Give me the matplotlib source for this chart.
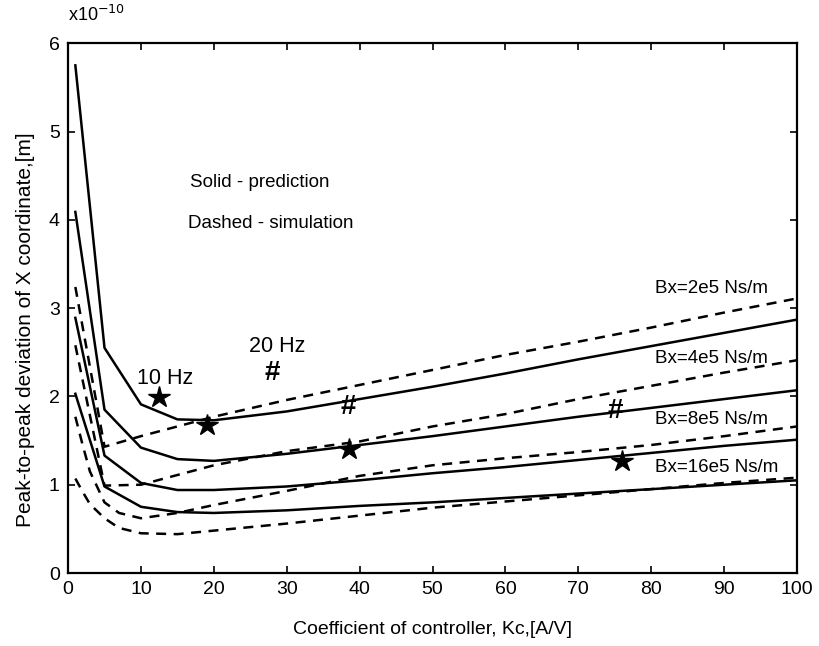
import numpy as np
import matplotlib
matplotlib.use("Agg")
import matplotlib.pyplot as plt

plt.rcParams['font.family'] = ['Liberation Sans', 'DejaVu Sans']

# --- data (units of 1e-10 m) ---
kc_pred = [1, 5, 10, 15, 20, 30, 40, 50, 60, 70, 80, 90, 100]
pred_2e5 = [5.75, 2.55, 1.91, 1.74, 1.73, 1.83, 1.97, 2.11, 2.26, 2.42, 2.57, 2.72, 2.87]
pred_4e5 = [4.09, 1.85, 1.42, 1.29, 1.27, 1.35, 1.45, 1.55, 1.66, 1.77, 1.87, 1.97, 2.07]
pred_8e5 = [2.89, 1.33, 1.02, 0.94, 0.94, 0.98, 1.05, 1.13, 1.20, 1.28, 1.36, 1.44, 1.51]
pred_16e5 = [2.03, 0.98, 0.75, 0.69, 0.68, 0.71, 0.76, 0.80, 0.85, 0.90, 0.95, 1.00, 1.05]

kc_sim = [1, 5, 10, 15, 20, 30, 40, 50, 60, 70, 80, 90, 100]
sim_2e5 = [3.24, 1.43, 1.55, 1.66, 1.77, 1.96, 2.13, 2.30, 2.47, 2.62, 2.78, 2.95, 3.11]
sim_4e5 = [2.58, 0.99, 1.00, 1.11, 1.22, 1.38, 1.49, 1.66, 1.80, 1.97, 2.12, 2.27, 2.41]

kc_sim2 = [1, 2, 3, 5, 7, 10, 15, 20, 30, 40, 50, 60, 70, 80, 90, 100]
sim_8e5 = [1.77, 1.45, 1.15, 0.80, 0.68, 0.62, 0.68, 0.77, 0.93, 1.10, 1.22, 1.30, 1.37, 1.45, 1.55, 1.66]
sim_16e5 = [1.07, 0.92, 0.78, 0.62, 0.51, 0.45, 0.44, 0.48, 0.56, 0.65, 0.74, 0.81, 0.88, 0.95, 1.02, 1.08]

# resonance markers
star_x = [12.5, 19, 38.5, 76]
star_y = [1.99, 1.68, 1.40, 1.27]
hash_x = [28, 38.5, 75]
hash_y = [2.26, 1.88, 1.84]

bx_labels = ['Bx=2e5 Ns/m', 'Bx=4e5 Ns/m', 'Bx=8e5 Ns/m', 'Bx=16e5 Ns/m']
bx_label_y = [3.22, 2.43, 1.74, 1.19]

fig = plt.figure(figsize=(8.2, 6.46), dpi=100)
ax = fig.add_axes([0.083, 0.113, 0.889, 0.82])

for y in [pred_2e5, pred_4e5, pred_8e5, pred_16e5]:
    ax.plot(kc_pred, y, color='black', lw=1.8)
for y in [sim_2e5, sim_4e5]:
    ax.plot(kc_sim, y, color='black', lw=1.8, ls=(0, (4, 3)))
for y in [sim_8e5, sim_16e5]:
    ax.plot(kc_sim2, y, color='black', lw=1.8, ls=(0, (4, 3)))

ax.plot(star_x, star_y, ls='none', marker='*', ms=16, color='black')
for x, y in zip(hash_x, hash_y):
    ax.text(x, y, '#', fontsize=20, fontweight='bold', ha='center', va='center', color='black')

ax.text(13.3, 2.2, '10 Hz', fontsize=15.5, ha='center', va='center')
ax.text(28.7, 2.56, '20 Hz', fontsize=15.5, ha='center', va='center')

ax.text(16.7, 4.42, 'Solid - prediction', fontsize=13.5, va='center')
ax.text(16.4, 3.96, 'Dashed - simulation', fontsize=13.5, va='center')

for lab, y in zip(bx_labels, bx_label_y):
    ax.text(80.5, y, lab, fontsize=13.5, va='center')

ax.set_xlim(0, 100)
ax.set_ylim(0, 6)
ax.set_xticks(np.arange(0, 101, 10))
ax.set_yticks(np.arange(0, 7, 1))
ax.tick_params(direction='in', top=True, right=True, labelsize=14, length=5, width=1.2, pad=6)
for s in ax.spines.values():
    s.set_linewidth(1.6)

ax.text(0, 1.035, r'x10$^{-10}$', transform=ax.transAxes, fontsize=13, ha='left', va='bottom')

ax.set_xlabel('Coefficient of controller, Kc,[A/V]', fontsize=14, labelpad=16)
ax.set_ylabel('Peak-to-peak deviation of X coordinate,[m]', fontsize=15)
ax.yaxis.set_label_coords(-0.045, 0.46)

fig.savefig('out.png', dpi=100)
